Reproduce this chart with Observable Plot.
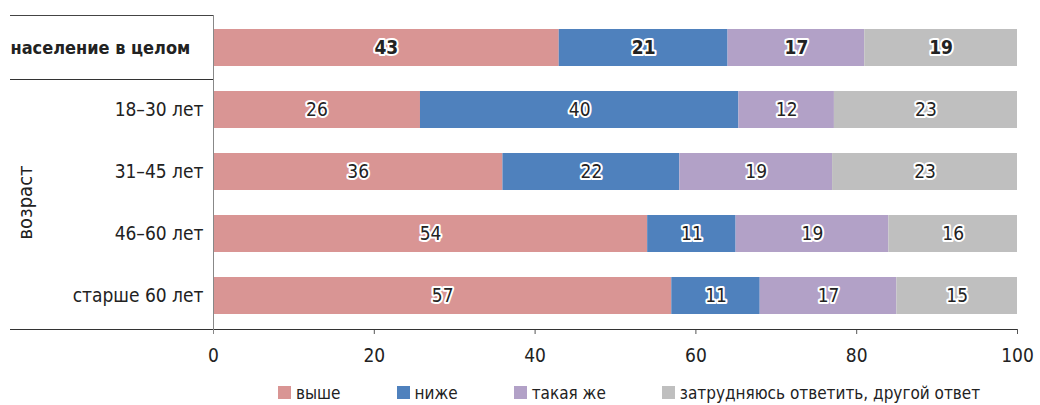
<!DOCTYPE html>
<html><head><meta charset="utf-8">
<script src="https://cdn.jsdelivr.net/npm/d3@7"></script>
<script src="https://cdn.jsdelivr.net/npm/@observablehq/plot@0.6"></script>
<style>
body{margin:0;background:#fff;font-family:"Liberation Sans Narrow","Arial Narrow","DejaVu Sans Condensed",sans-serif;color:#222;}
#chart svg{display:block;font-family:"Liberation Sans Narrow","Arial Narrow","DejaVu Sans Condensed",sans-serif;}
#legend{position:relative;height:25px;margin-top:3px;display:flex;align-items:center;padding-left:278px;gap:56px;font-size:17px;}
.item{display:flex;align-items:center;gap:5px;white-space:nowrap;}
.sw{width:13px;height:13px;display:inline-block;}
</style></head><body><div id="chart"></div><div id="legend"></div>
<script>
const groups = ["население в целом","18–30 лет","31–45 лет","46–60 лет","старше 60 лет"];
const answers = ["выше","ниже","такая же","затрудняюсь ответить, другой ответ"];
const colors = ["#d99594","#4f81bd","#b2a1c7","#bfbfbf"];
const vyshe = [43,26,36,54,57];
const nizhe = [21,40,22,11,11];
const takayaZhe = [17,12,19,19,17];
const zatrudnyayus = [19,23,23,16,15];
const xTicks = [0,20,40,60,80,100];
const ageLabel = "возраст";

const series = [vyshe, nizhe, takayaZhe, zatrudnyayus];
const data = [];
groups.forEach((g, i) => answers.forEach((a, j) => data.push({group: g, answer: a, value: series[j][i]})));

const stackOpts = (extra) => Plot.stackX({x: "value", y: "group", z: "answer", order: answers, offset: "normalize", ...extra});

const plot = Plot.plot({
  width: 1040,
  height: 377,
  marginLeft: 213,
  marginRight: 23,
  marginTop: 15,
  marginBottom: 48,
  style: {fontSize: "19px", color: "#222"},
  x: {percent: true, domain: [0, 100], label: null},
  y: {domain: groups, paddingInner: 0.4, paddingOuter: 0.2, axis: null},
  color: {domain: answers, range: colors},
  marks: [
    Plot.barX(data, stackOpts({fill: "answer"})),
    Plot.text(data, stackOpts({text: "value", filter: d => d.group === groups[0], fontWeight: "bold", fontSize: 19, fill: "#222", stroke: "white", strokeWidth: 4})),
    Plot.text(data, stackOpts({text: "value", filter: d => d.group !== groups[0], fontSize: 19, fill: "#222", stroke: "white", strokeWidth: 4})),
    Plot.text(groups.slice(1), {y: d => d, frameAnchor: "left", dx: -10, textAnchor: "end", fontSize: 19, fill: "#222"}),
    Plot.text(groups.slice(0, 1), {y: d => d, frameAnchor: "left", dx: -203, textAnchor: "start", fontSize: 18, fontWeight: "bold", fill: "#222"}),
    Plot.axisX({ticks: xTicks, tickSize: 5, tickPadding: 14, fontSize: 19, label: null, stroke: "#555"})
  ]
});
document.getElementById("chart").appendChild(plot);

// decorations computed from the scales
const xs = plot.scale("x"), ys = plot.scale("y");
const svg = d3.select(plot);
const [yTop, yBot] = ys.range;
const x0 = xs.apply(0), x100 = xs.apply(100);
const half = (ys.step - ys.bandwidth) / 2;
const left = x0 - 203;
const g = svg.append("g");
g.append("line").attr("x1", left).attr("x2", x0).attr("y1", yTop + 0.5).attr("y2", yTop + 0.5).attr("stroke", "#444");
const ySep = Math.round(ys.apply(groups[1]) - half) + 0.5;
g.append("line").attr("x1", left).attr("x2", x0).attr("y1", ySep).attr("y2", ySep).attr("stroke", "#333");
g.append("line").attr("x1", left).attr("x2", x100).attr("y1", yBot + 0.5).attr("y2", yBot + 0.5).attr("stroke", "#333");
g.append("line").attr("x1", x0 + 0.5).attr("x2", x0 + 0.5).attr("y1", yTop).attr("y2", yBot + 5).attr("stroke", "#888");
const yAgeTop = ys.apply(groups[1]) - half, yAgeBot = ys.apply(groups[groups.length - 1]) + ys.bandwidth + half;
g.append("text").attr("transform", `translate(${left + 15},${(yAgeTop + yAgeBot) / 2}) rotate(-90)`)
  .attr("text-anchor", "middle").attr("dy", "0.35em").attr("font-size", 20).attr("fill", "#222").text(ageLabel);

const leg = d3.select("#legend");
answers.forEach((a, i) => {
  const it = leg.append("div").attr("class", "item");
  it.append("span").attr("class", "sw").style("background", colors[i]);
  it.append("span").text(a);
});
</script></body></html>
